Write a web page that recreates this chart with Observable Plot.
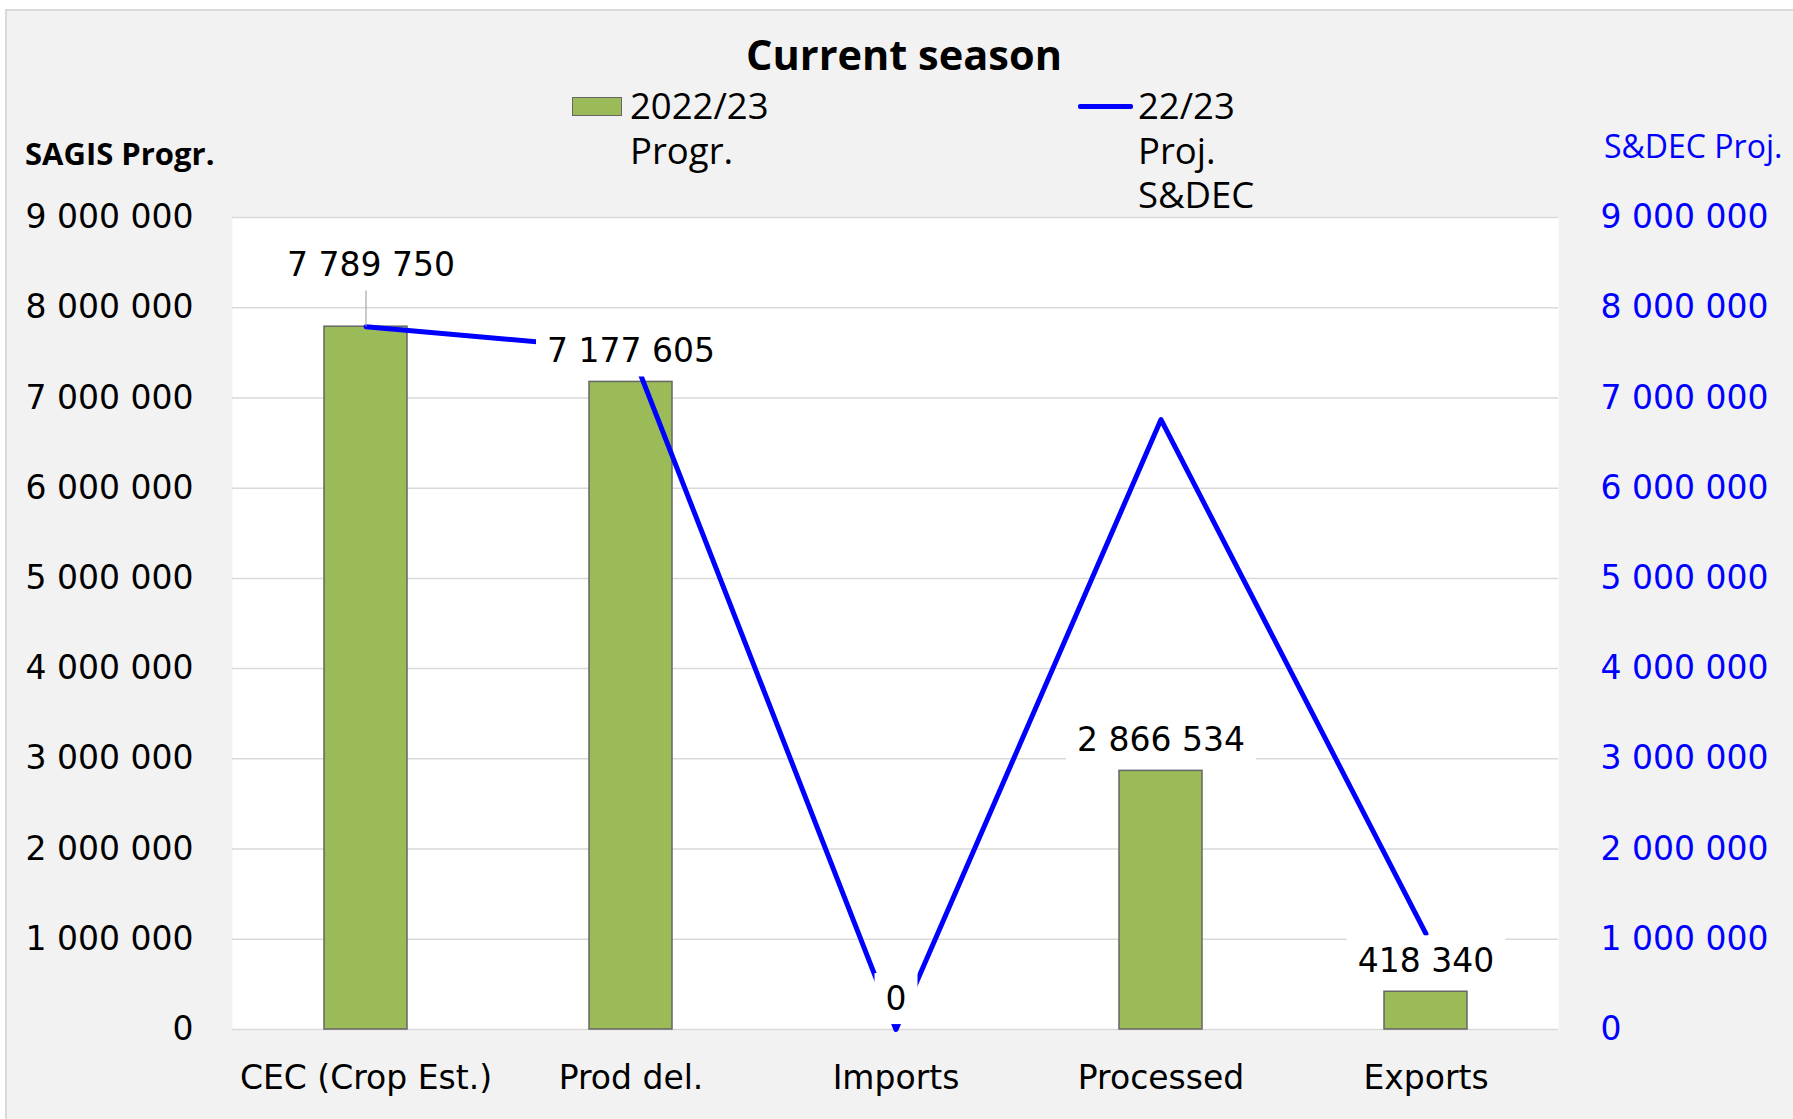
<!DOCTYPE html>
<html><head><meta charset="utf-8">
<script src="https://cdn.jsdelivr.net/npm/d3@7"></script>
<script src="https://cdn.jsdelivr.net/npm/@observablehq/plot@0.6"></script>
<style>
html,body{margin:0;padding:0;background:#fff;}
#wrap{position:relative;width:1793px;height:1119px;overflow:hidden;}
#bg{position:absolute;left:5px;top:9px;width:1800px;height:1200px;background:#f2f2f2;border-left:2px solid #d9d9d9;border-top:2px solid #d9d9d9;}
#chart{position:absolute;left:0;top:0;}
.t{position:absolute;font-family:"Open Sans";white-space:pre;color:#000;}
</style></head><body>
<div id="wrap"><div id="bg"></div><div id="chart"></div></div>
<script>
const categories = ["CEC (Crop Est.)", "Prod del.", "Imports", "Processed", "Exports"];
const progr2223 = [7789750, 7177605, 0, 2866534, 418340];
const projSDEC = [7789750, 7530000, 0, 6760000, 1060000];
const yTicks = [0, 1000000, 2000000, 3000000, 4000000, 5000000, 6000000, 7000000, 8000000, 9000000];
const titleText = "Current season";
const leftAxisTitle = "SAGIS Progr.";
const rightAxisTitle = "S&DEC Proj.";
const legendBarLines = ["2022/23", "Progr."];
const legendLineLines = ["22/23", "Proj.", "S&DEC"];

const bars = categories.map((c, i) => ({cat: c, v: progr2223[i]}));
const proj = categories.map((c, i) => ({cat: c, v: projSDEC[i]}));
const fmt = d => d3.format(",")(d).replace(/,/g, " ");

const chart = Plot.plot({
  width: 1793, height: 1119,
  marginLeft: 232, marginRight: 235, marginTop: 217, marginBottom: 90,
  style: {background: "transparent", fontFamily: "DejaVu Sans", fontSize: "33px", color: "#000"},
  x: {domain: categories, paddingInner: 0.687, paddingOuter: 0.3435, label: null},
  y: {domain: [0, 9000000], label: null},
  marks: [
    Plot.frame({fill: "white", stroke: "none"}),
    Plot.gridY(yTicks, {stroke: "#d9d9d9", strokeOpacity: 1, strokeWidth: 1.5}),
    Plot.axisY(yTicks, {anchor: "left", tickSize: 0, tickPadding: 39, tickFormat: fmt, label: null, color: "#000"}),
    Plot.axisY(yTicks, {anchor: "right", tickSize: 0, tickPadding: 42, tickFormat: fmt, label: null, color: "#0000ff"}),
    Plot.axisX({tickSize: 0, tickPadding: 36, label: null, color: "#000"}),
    Plot.barY(bars, {x: "cat", y: "v", fill: "#9bbb59", stroke: "#666666", strokeWidth: 1.5}),
    Plot.line(proj, {x: "cat", y: "v", stroke: "#0000ff", strokeWidth: 5, strokeLinejoin: "round"}),
    Plot.ruleX(bars, {filter: (d, i) => i === 0, x: "cat", y1: "v", y2: "v", insetTop: -36, stroke: "#a6a6a6", strokeWidth: 1.2}),
    Plot.text(bars, {filter: (d, i) => i === 0, x: "cat", y: "v", text: d => fmt(d.v), dy: -61, dx: 5, fill: "#000", ariaDescription: "vlabel"}),
    Plot.text(bars, {filter: (d, i) => i > 0, x: "cat", y: "v", text: d => fmt(d.v), dy: -30, fill: "#000", ariaDescription: "vlabel"})
  ]
});
document.getElementById("chart").appendChild(chart);

// white label boxes behind data labels
const svgns = "http://www.w3.org/2000/svg";
const labelSet = new Set(progr2223.map(fmt));
chart.querySelectorAll("text").forEach(t => {
  const g = t.parentNode;
  const al = (g.getAttribute("aria-label") || "") + (g.parentNode && g.parentNode.getAttribute ? (g.parentNode.getAttribute("aria-label") || "") : "");
  if (al.indexOf("axis") >= 0) return;
  if (!labelSet.has(t.textContent)) return;
  const b = t.getBBox();
  const r = document.createElementNS(svgns, "rect");
  r.setAttribute("x", b.x - 11);
  r.setAttribute("y", b.y - 6);
  r.setAttribute("width", b.width + 22);
  r.setAttribute("height", b.height + 12);
  r.setAttribute("fill", "white");
  r.setAttribute("stroke", "none");
  const tr = t.getAttribute("transform");
  if (tr) r.setAttribute("transform", tr);
  g.insertBefore(r, t);
});

// titles & legend (HTML)
const wrap = document.getElementById("wrap");
function addText(txt, opts) {
  const d = document.createElement("div");
  d.className = "t";
  d.textContent = txt;
  Object.assign(d.style, opts);
  wrap.appendChild(d);
  return d;
}
addText(titleText, {fontSize: "41.5px", fontWeight: "700", lineHeight: "42px", top: "33px", left: "904px", transform: "translateX(-50%)"});
addText(leftAxisTitle, {fontSize: "31px", fontWeight: "700", lineHeight: "31px", top: "138px", left: "25px"});
addText(rightAxisTitle, {fontSize: "32px", fontWeight: "400", lineHeight: "32px", top: "130px", left: "1604px", color: "#0000ff"});

// legend: bar swatch
const sw = document.createElement("div");
Object.assign(sw.style, {position: "absolute", left: "572px", top: "97px", width: "48px", height: "17px", background: "#9bbb59", border: "1.5px solid #666"});
wrap.appendChild(sw);
addText(legendBarLines.join("\n"), {fontSize: "36.5px", lineHeight: "45px", top: "83px", left: "630px"});
// legend: line swatch
const ls = document.createElement("div");
Object.assign(ls.style, {position: "absolute", left: "1078px", top: "104px", width: "55px", height: "5px", background: "#0000ff", borderRadius: "2px"});
wrap.appendChild(ls);
addText(legendLineLines.join("\n"), {fontSize: "36.5px", lineHeight: "44.5px", top: "83px", left: "1138px"});
</script>
</body></html>
